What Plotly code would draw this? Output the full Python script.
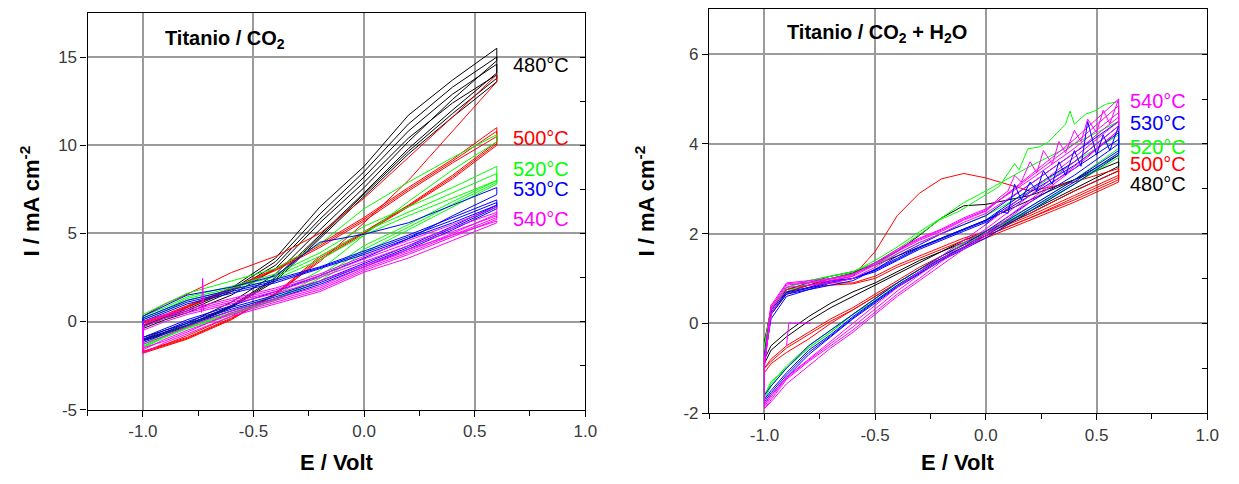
import plotly.graph_objects as go

# ---------------- data ----------------
TEMPS = ["480", "500", "520", "530", "540"]
COLORS = ["#000000", "#ff0000", "#00ff00", "#0000ff", "#ff00ff"]

X_TICKS = [-1.0, -0.5, 0.0, 0.5, 1.0]
X_TICKTEXT = ["-1.0", "-0.5", "0.0", "0.5", "1.0"]
Y1_TICKS = [-5, 0, 5, 10, 15]
Y2_TICKS = [-2, 0, 2, 4, 6]

# ---- Left panel: Titanio / CO2 ----
E_CO2 = [-1.0, -0.9, -0.8, -0.6, -0.4, -0.2, 0.0, 0.2, 0.4, 0.6]

co2_480_lo = [[-0.9, -0.5, -0.1, 1.1, 2.7, 5.2, 7.6, 10.2, 12.6, 14.8],
              [-1.0, -0.6, -0.2, 0.9, 2.5, 4.9, 7.3, 9.8, 12.0, 14.1],
              [-1.05, -0.65, -0.25, 0.85, 2.4, 4.8, 7.2, 9.65, 11.8, 13.8],
              [-1.1, -0.7, -0.3, 0.8, 2.3, 4.7, 7.1, 9.5, 11.6, 13.6]]
co2_480_up = [[-0.2, 0.3, 0.8, 1.9, 3.6, 6.5, 8.8, 11.7, 13.7, 15.5],
              [-0.3, 0.2, 0.6, 1.7, 3.2, 5.8, 8.2, 10.8, 12.9, 14.6],
              [-0.25, 0.25, 0.7, 1.8, 3.4, 6.1, 8.5, 11.2, 13.3, 15.0],
              [-0.4, 0.1, 0.5, 1.5, 3.0, 5.6, 7.9, 10.4, 12.4, 14.0]]

co2_500_lo = [[-1.7, -1.3, -0.8, 0.3, 1.6, 3.4, 5.6, 8.0, 10.8, 13.6],
              [-1.8, -1.4, -1.0, 0.1, 1.6, 3.7, 5.1, 6.6, 8.3, 10.2],
              [-1.75, -1.35, -0.95, 0.15, 1.55, 3.6, 5.05, 6.55, 8.2, 10.1],
              [-1.7, -1.3, -0.9, 0.2, 1.5, 3.5, 5.0, 6.5, 8.1, 10.0]]
co2_500_up = [[0.3, 1.0, 1.55, 2.78, 3.7, 5.0, 7.0, 9.3, 11.6, 14.0],
              [0.0, 0.4, 0.9, 1.9, 3.0, 4.4, 5.9, 7.6, 9.2, 11.0],
              [-0.05, 0.35, 0.85, 1.85, 2.95, 4.3, 5.8, 7.5, 9.1, 10.8],
              [-0.1, 0.3, 0.8, 1.8, 2.9, 4.2, 5.7, 7.4, 9.0, 10.5]]

co2_520_lo = [[-1.3, -0.7, -0.2, 0.6, 1.5, 2.9, 4.9, 6.8, 8.6, 10.2],
              [-1.4, -0.8, -0.3, 0.5, 1.3, 2.6, 4.3, 5.5, 6.8, 8.0],
              [-1.45, -0.85, -0.35, 0.45, 1.25, 2.45, 4.1, 5.35, 6.65, 7.9],
              [-1.5, -0.9, -0.4, 0.4, 1.2, 2.3, 3.9, 5.2, 6.5, 7.8]]
co2_520_up = [[0.4, 1.0, 1.6, 2.3, 3.0, 4.4, 6.4, 7.9, 9.3, 10.6],
              [0.3, 0.8, 1.4, 2.0, 2.7, 3.9, 5.4, 6.5, 7.6, 8.8],
              [0.2, 0.7, 1.3, 1.9, 2.55, 3.7, 5.1, 6.2, 7.3, 8.4],
              [0.1, 0.6, 1.2, 1.8, 2.4, 3.5, 4.9, 6.0, 7.0, 8.0]]

co2_530_lo = [[-0.9, -0.4, 0.1, 0.9, 1.7, 2.6, 3.6, 4.7, 6.0, 7.2],
              [-1.0, -0.5, 0.0, 0.8, 1.5, 2.3, 3.3, 4.3, 5.4, 6.6],
              [-1.1, -0.6, -0.1, 0.7, 1.4, 2.2, 3.2, 4.2, 5.3, 6.5],
              [-1.2, -0.7, -0.2, 0.6, 1.3, 2.1, 3.1, 4.1, 5.2, 6.4]]
co2_530_up = [[0.3, 0.9, 1.5, 1.95, 2.6, 4.5, 4.95, 5.6, 6.6, 7.6],
              [0.2, 0.7, 1.2, 1.8, 2.4, 3.1, 4.0, 4.9, 5.9, 6.9],
              [0.1, 0.6, 1.1, 1.7, 2.3, 3.05, 3.9, 4.8, 5.75, 6.75],
              [0.0, 0.5, 1.0, 1.6, 2.2, 3.0, 3.8, 4.7, 5.6, 6.6]]

co2_540_lo = [[-1.3, -0.8, -0.3, 0.6, 1.3, 2.0, 3.1, 4.0, 5.0, 6.1],
              [-1.5, -1.1, -0.6, 0.5, 1.2, 1.9, 3.0, 3.9, 4.9, 5.9],
              [-1.6, -1.0, -0.5, 0.4, 1.1, 1.8, 2.9, 3.8, 4.8, 5.8],
              [-1.8, -1.2, -0.7, 0.3, 1.0, 1.7, 2.8, 3.6, 4.6, 5.6]]
co2_540_up = [[0.0, 0.4, 0.7, 1.3, 1.9, 2.7, 3.7, 4.6, 5.5, 6.5],
              [-0.2, 0.3, 0.6, 1.2, 1.8, 2.6, 3.55, 4.45, 5.3, 6.2],
              [-0.3, 0.2, 0.5, 1.1, 1.7, 2.5, 3.4, 4.3, 5.1, 6.0],
              [-0.5, 0.0, 0.4, 1.0, 1.6, 2.3, 3.2, 4.1, 4.9, 5.7]]

co2_540_spike_E = [-0.735, -0.73, -0.725]
co2_540_spike_I = [0.5, 2.45, 0.6]

# ---- Right panel: Titanio / CO2 + H2O ----
E_H2O = [-1.0, -0.97, -0.9, -0.8, -0.7, -0.6, -0.5, -0.4, -0.3, -0.2, -0.1, 0.0, 0.2, 0.4, 0.6]

h2o_480_lo = [[-0.8, -0.5, -0.2, 0.15, 0.45, 0.7, 0.9, 1.15, 1.4, 1.6, 1.85, 2.05, 2.5, 3.0, 3.5],
              [-0.9, -0.6, -0.3, 0.05, 0.35, 0.6, 0.85, 1.1, 1.35, 1.6, 1.8, 2.0, 2.45, 2.95, 3.4]]
h2o_480_up = [[-0.4, 0.3, 0.75, 0.9, 1.05, 1.15, 1.3, 1.5, 1.7, 1.9, 2.1, 2.3, 2.75, 3.2, 3.75],
              [-0.6, 0.2, 0.7, 0.85, 1.0, 1.12, 1.35, 1.6, 1.96, 2.35, 2.62, 2.65, 2.85, 3.2, 3.6]]

h2o_500_lo = [[-1.0, -0.85, -0.55, -0.25, 0.05, 0.3, 0.6, 0.9, 1.2, 1.5, 1.75, 1.95, 2.35, 2.8, 3.25],
              [-1.1, -0.9, -0.65, -0.35, 0.0, 0.3, 0.6, 0.9, 1.2, 1.45, 1.7, 1.9, 2.3, 2.7, 3.15],
              [-1.0, -0.8, -0.5, -0.2, 0.1, 0.35, 0.65, 0.95, 1.25, 1.5, 1.75, 1.95, 2.35, 2.75, 3.2]]
h2o_500_up = [[-0.6, 0.4, 0.75, 0.85, 0.95, 1.05, 1.6, 2.4, 2.9, 3.22, 3.34, 3.24, 2.95, 3.15, 3.45],
              [-0.5, 0.35, 0.7, 0.85, 0.9, 0.9, 1.05, 1.3, 1.5, 1.7, 1.9, 2.05, 2.45, 2.95, 3.4],
              [-0.7, 0.2, 0.65, 0.8, 0.85, 0.88, 1.0, 1.25, 1.45, 1.65, 1.85, 2.0, 2.4, 2.85, 3.3]]

h2o_520_lo = [[-1.6, -1.3, -1.0, -0.55, -0.2, 0.2, 0.55, 0.9, 1.2, 1.5, 1.8, 2.05, 2.6, 3.2, 3.9],
              [-1.7, -1.4, -1.0, -0.55, -0.2, 0.2, 0.5, 0.85, 1.15, 1.45, 1.75, 2.0, 2.55, 3.1, 3.8],
              [-1.65, -1.35, -0.95, -0.5, -0.15, 0.2, 0.55, 0.9, 1.2, 1.5, 1.75, 2.0, 2.5, 3.1, 3.7]]
h2o_520_up = [None,
              [-0.5, 0.3, 0.8, 0.95, 1.05, 1.15, 1.4, 1.7, 2.04, 2.35, 2.69, 2.95, 3.5, 4.0, 4.5],
              [-0.7, 0.2, 0.7, 0.9, 1.0, 1.1, 1.3, 1.55, 1.8, 2.0, 2.2, 2.4, 2.95, 3.6, 4.2]]
h2o_520_wiggle_E = [-1.0, -0.97, -0.9, -0.8, -0.7, -0.6, -0.5, -0.4, -0.3, -0.21, -0.12, -0.03,
                    0.06, 0.13, 0.15, 0.19, 0.24, 0.28, 0.36, 0.38, 0.40, 0.45, 0.49, 0.54, 0.6]
h2o_520_wiggle_I = [-0.5, 0.3, 0.8, 0.95, 1.05, 1.15, 1.35, 1.65, 1.98, 2.3, 2.5, 2.78,
                    3.05, 3.56, 3.42, 3.89, 3.93, 4.03, 4.44, 4.73, 4.44, 4.66, 4.73, 4.88, 4.95]

h2o_530_lo = [[-1.7, -1.5, -1.1, -0.6, -0.25, 0.15, 0.5, 0.85, 1.15, 1.45, 1.7, 2.0, 2.6, 3.2, 3.85],
              [-1.75, -1.55, -1.15, -0.65, -0.28, 0.12, 0.48, 0.82, 1.12, 1.42, 1.68, 1.95, 2.55, 3.15, 3.8],
              [-1.8, -1.6, -1.2, -0.7, -0.3, 0.1, 0.45, 0.8, 1.1, 1.4, 1.65, 1.9, 2.5, 3.1, 3.75],
              [-1.6, -1.4, -1.0, -0.5, -0.15, 0.2, 0.55, 0.9, 1.2, 1.5, 1.75, 2.05, 2.7, 3.3, 4.0]]
h2o_530_up = [[-0.9, 0.2, 0.65, 0.75, 0.9, 1.0, 1.2, 1.45, 1.7, 1.9, 2.1, 2.3, 3.0, 3.6, 4.4],
              [-0.75, 0.25, 0.68, 0.78, 0.92, 1.0, 1.18, 1.42, 1.68, 1.88, 2.08, 2.28, 2.92, 3.52, 4.25],
              [-0.7, 0.3, 0.7, 0.8, 0.95, 1.0, 1.15, 1.4, 1.65, 1.85, 2.05, 2.25, 2.85, 3.45, 4.1],
              [-0.8, 0.1, 0.6, 0.75, 0.85, 0.95, 1.2, 1.5, 1.75, 2.0, 2.2, 2.4, 3.1, 3.8, 4.5]]

h2o_540_lo = [[-1.9, -1.7, -1.25, -0.85, -0.5, -0.15, 0.25, 0.65, 1.0, 1.38, 1.7, 2.0, 2.75, 3.5, 4.3],
              [-1.85, -1.65, -1.22, -0.82, -0.45, -0.08, 0.32, 0.72, 1.08, 1.44, 1.78, 2.1, 2.85, 3.6, 4.4],
              [-1.8, -1.6, -1.2, -0.8, -0.4, 0.0, 0.4, 0.8, 1.15, 1.5, 1.85, 2.2, 2.95, 3.7, 4.5],
              [-1.9, -1.75, -1.35, -0.95, -0.55, -0.2, 0.2, 0.6, 0.95, 1.3, 1.65, 1.95, 2.7, 3.45, 4.3]]
h2o_540_up = [[-1.0, 0.3, 0.85, 0.9, 0.95, 1.05, 1.3, 1.6, 1.85, 2.05, 2.3, 2.5, 3.3, 4.1, 5.0],
              [-0.85, 0.35, 0.88, 0.92, 0.98, 1.08, 1.32, 1.62, 1.88, 2.08, 2.32, 2.52, 3.25, 4.0, 4.85],
              [-0.8, 0.4, 0.9, 0.95, 1.0, 1.1, 1.35, 1.65, 1.9, 2.1, 2.35, 2.55, 3.2, 3.9, 4.7],
              [-0.9, 0.2, 0.8, 0.85, 0.9, 1.0, 1.25, 1.55, 1.8, 2.0, 2.25, 2.45, 3.1, 3.8, 4.6]]

h2o_noise_E = [0.0, 0.06, 0.1, 0.13, 0.16, 0.2, 0.23, 0.26, 0.3, 0.33, 0.36, 0.4, 0.43, 0.46, 0.5, 0.53, 0.56, 0.6]
h2o_530_noise_I = [2.2, 2.5, 2.45, 3.1, 2.75, 3.15, 2.95, 3.4, 3.1, 3.6, 3.3, 3.85, 3.5, 4.5, 3.75, 4.2, 3.85, 4.4]
h2o_540_noise_I = [2.5, 2.8, 2.95, 3.3, 3.15, 3.6, 3.35, 3.85, 3.55, 4.05, 3.8, 4.3, 4.05, 4.55, 4.25, 4.75, 4.45, 5.0]
h2o_540_step_E = [-0.9, -0.89, -0.79]
h2o_540_step_I = [-0.5, 0.0, 0.0]

# ---------------- build figure ----------------
FONT = "Liberation Sans, Arial, sans-serif"


def loops(E, lows, ups, special=None):
    xs, ys = [], []
    for lo, up in zip(lows, ups):
        xs += list(E)
        ys += list(lo)
        if up is None and special is not None:
            xs += list(special[0][::-1])
            ys += list(special[1][::-1])
        else:
            xs += list(E[::-1])
            ys += list(up[::-1])
    return xs, ys


fig = go.Figure()

left_sets = [(co2_480_lo, co2_480_up), (co2_500_lo, co2_500_up), (co2_520_lo, co2_520_up),
             (co2_530_lo, co2_530_up), (co2_540_lo, co2_540_up)]
for (lo, up), col in zip(left_sets, COLORS):
    x, y = loops(E_CO2, lo, up)
    fig.add_trace(go.Scatter(x=x, y=y, mode="lines", line=dict(color=col, width=1),
                             xaxis="x", yaxis="y", hoverinfo="skip"))
# drawn on the mirrored right-hand axis (same range) so that axis is rendered
fig.add_trace(go.Scatter(x=co2_540_spike_E, y=co2_540_spike_I, mode="lines",
                         line=dict(color=COLORS[4], width=1), xaxis="x", yaxis="y3"))

right_sets = [(h2o_480_lo, h2o_480_up, None), (h2o_500_lo, h2o_500_up, None),
              (h2o_520_lo, h2o_520_up, (h2o_520_wiggle_E, h2o_520_wiggle_I)),
              (h2o_530_lo, h2o_530_up, None), (h2o_540_lo, h2o_540_up, None)]
for (lo, up, sp), col in zip(right_sets, COLORS):
    x, y = loops(E_H2O, lo, up, sp)
    fig.add_trace(go.Scatter(x=x, y=y, mode="lines", line=dict(color=col, width=1),
                             xaxis="x2", yaxis="y2", hoverinfo="skip"))
fig.add_trace(go.Scatter(x=h2o_noise_E, y=h2o_530_noise_I, mode="lines",
                         line=dict(color=COLORS[3], width=1), xaxis="x2", yaxis="y2"))
fig.add_trace(go.Scatter(x=h2o_noise_E, y=h2o_540_noise_I, mode="lines",
                         line=dict(color=COLORS[4], width=1), xaxis="x2", yaxis="y2"))
fig.add_trace(go.Scatter(x=h2o_540_step_E, y=h2o_540_step_I, mode="lines",
                         line=dict(color=COLORS[4], width=1), xaxis="x2", yaxis="y4"))

GRID = "#9b9b9b"
tickfont = dict(family=FONT, size=17, color="#3a3a3a")


def xax(domain, anchor):
    return dict(domain=domain, anchor=anchor, range=[-1.25, 1.0], tickvals=X_TICKS,
                ticktext=X_TICKTEXT, ticks="outside", ticklen=6, tickcolor="black",
                minor=dict(ticks="outside", dtick=0.25, tick0=0, ticklen=5, tickcolor="black",
                           showgrid=False),
                showgrid=True, gridcolor=GRID, gridwidth=1.5, zeroline=False,
                showline=True, linecolor="black", linewidth=1.3, mirror=True,
                tickfont=tickfont)


def yax(domain, anchor, rng, ticks):
    return dict(domain=domain, anchor=anchor, range=rng, tickvals=ticks,
                ticktext=[str(t) for t in ticks], ticks="outside", ticklen=6, tickcolor="black",
                showgrid=True, gridcolor=GRID, gridwidth=1.5, zeroline=False,
                showline=True, linecolor="black", linewidth=1.3, mirror=True,
                tickfont=tickfont)


def yright(over, anchor, rng, ticks, mdt):
    return dict(overlaying=over, anchor=anchor, side="right", range=rng, tickvals=ticks,
                showticklabels=False, ticks="inside", ticklen=5, tickcolor="black",
                minor=dict(ticks="inside", dtick=mdt, ticklen=5, tickcolor="black", showgrid=False),
                showgrid=False, zeroline=False, showline=False)


Y1_RANGE = [-5, 17.5]
Y2_RANGE = [-2, 7]
fig.update_layout(
    width=1239, height=484, margin=dict(l=0, r=0, t=0, b=0),
    paper_bgcolor="white", plot_bgcolor="white", showlegend=False,
    xaxis=xax([0.0714, 0.4770], "y"),
    yaxis=yax([0.1357, 0.9725], "x", Y1_RANGE, Y1_TICKS),
    xaxis2=xax([0.5779, 0.9839], "y2"),
    yaxis2=yax([0.1287, 0.9804], "x2", Y2_RANGE, Y2_TICKS),
    yaxis3=yright("y", "x", Y1_RANGE, Y1_TICKS, 2.5),
    yaxis4=yright("y2", "x2", Y2_RANGE, Y2_TICKS, 1),
)

ann = []
# panel titles
ann.append(dict(x=-0.91, y=16.0, xref="x", yref="y", xanchor="left", yanchor="middle",
                text="<b>Titanio / CO<sub>2</sub></b>", showarrow=False,
                font=dict(family=FONT, size=20, color="black")))
ann.append(dict(x=-0.905, y=6.45, xref="x2", yref="y2", xanchor="left", yanchor="middle",
                text="<b>Titanio / CO<sub>2</sub> + H<sub>2</sub>O</b>", showarrow=False,
                font=dict(family=FONT, size=20, color="black")))
# temperature labels
left_label_y = [14.55, 10.4, 8.65, 7.5, 5.8]
right_label_y = [3.1, 3.56, 3.94, 4.46, 4.95]
for t, col, ly, ry in zip(TEMPS, COLORS, left_label_y, right_label_y):
    ann.append(dict(x=0.665, y=ly, xref="x", yref="y", xanchor="left", yanchor="middle",
                    text=t + "°C", showarrow=False, font=dict(family=FONT, size=20, color=col)))
    ann.append(dict(x=0.64, y=ry, xref="x2", yref="y2", xanchor="left", yanchor="middle",
                    text=t + "°C", showarrow=False, font=dict(family=FONT, size=20, color=col)))
# axis titles
for xc in [340 / 1239, 967.5 / 1239]:
    ann.append(dict(x=xc, y=1 - 472 / 484, xref="paper", yref="paper", xanchor="center",
                    yanchor="middle", text="<b>E / Volt</b>", showarrow=False,
                    font=dict(family=FONT, size=22, color="black")))
for xc in [30 / 1239, 651 / 1239]:
    ann.append(dict(x=xc, y=1 - 205 / 484, xref="paper", yref="paper", xanchor="center",
                    yanchor="middle", text="<b>I / mA cm<sup>-2</sup></b>", textangle=-90,
                    showarrow=False, font=dict(family=FONT, size=22, color="black")))
fig.update_layout(annotations=ann)

fig.write_html("out.html")
